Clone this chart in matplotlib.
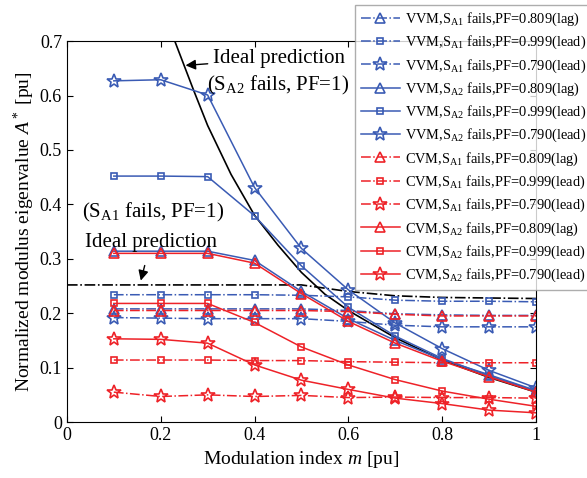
import matplotlib
matplotlib.use('Agg')
import matplotlib.pyplot as plt
import numpy as np

plt.rcParams['font.family'] = ['Liberation Serif', 'DejaVu Serif']
plt.rcParams['mathtext.fontset'] = 'custom'
plt.rcParams['mathtext.rm'] = 'Liberation Serif'
plt.rcParams['mathtext.it'] = 'Liberation Serif:italic'

# modulation index
m = [0.1, 0.2, 0.3, 0.4, 0.5, 0.6, 0.7, 0.8, 0.9, 1.0]

# VVM, S_A1 fails (dash-dot)
vvm_a1_809 = [0.208, 0.208, 0.208, 0.208, 0.208, 0.205, 0.199, 0.197, 0.196, 0.196]
vvm_a1_999 = [0.234, 0.234, 0.234, 0.234, 0.233, 0.230, 0.224, 0.222, 0.222, 0.221]
vvm_a1_790 = [0.192, 0.191, 0.190, 0.190, 0.190, 0.185, 0.178, 0.175, 0.175, 0.175]
# VVM, S_A2 fails (solid)
vvm_a2_809 = [0.314, 0.314, 0.314, 0.297, 0.240, 0.190, 0.150, 0.115, 0.087, 0.058]
vvm_a2_999 = [0.452, 0.452, 0.451, 0.379, 0.287, 0.211, 0.158, 0.117, 0.085, 0.057]
vvm_a2_790 = [0.627, 0.629, 0.601, 0.431, 0.319, 0.243, 0.182, 0.135, 0.095, 0.063]
# CVM, S_A1 fails (dash-dot)
cvm_a1_809 = [0.205, 0.205, 0.205, 0.205, 0.205, 0.203, 0.198, 0.195, 0.195, 0.195]
cvm_a1_999 = [0.114, 0.114, 0.114, 0.113, 0.113, 0.111, 0.110, 0.109, 0.109, 0.109]
cvm_a1_790 = [0.055, 0.047, 0.050, 0.047, 0.049, 0.045, 0.046, 0.045, 0.045, 0.044]
# CVM, S_A2 fails (solid)
cvm_a2_809 = [0.310, 0.310, 0.310, 0.292, 0.236, 0.185, 0.145, 0.112, 0.083, 0.055]
cvm_a2_999 = [0.218, 0.218, 0.218, 0.183, 0.138, 0.105, 0.078, 0.057, 0.042, 0.029]
cvm_a2_790 = [0.153, 0.152, 0.145, 0.105, 0.077, 0.060, 0.044, 0.034, 0.022, 0.017]

# ideal predictions
ideal_a2_m = [0.23, 0.25, 0.27, 0.3, 0.35, 0.4, 0.45, 0.5, 0.55, 0.6, 0.7, 0.8, 0.9, 1.0]
ideal_a2 = [0.70, 0.655, 0.61, 0.545, 0.455, 0.38, 0.325, 0.275, 0.235, 0.205, 0.155, 0.114, 0.082, 0.055]
ideal_a1_m = [0.0, 0.5, 0.6, 0.7, 0.8, 0.9, 1.0]
ideal_a1 = [0.252, 0.252, 0.240, 0.232, 0.229, 0.228, 0.227]

blue = '#3a5bb4'
red = '#ee2228'

fig = plt.figure(figsize=(5.87, 4.78), dpi=100)
ax = fig.add_axes([0.114, 0.117, 0.799, 0.797])

ax.plot(ideal_a2_m, ideal_a2, color='black', lw=1.2)
ax.plot(ideal_a1_m, ideal_a1, color='black', lw=1.2, ls='-.')

series = [
    (vvm_a1_809, blue, '-.', '^', 7, 'VVM,S$_{\\rm A1}$ fails,PF=0.809(lag)'),
    (vvm_a1_999, blue, '-.', 's', 5, 'VVM,S$_{\\rm A1}$ fails,PF=0.999(lead)'),
    (vvm_a1_790, blue, '-.', '*', 10, 'VVM,S$_{\\rm A1}$ fails,PF=0.790(lead)'),
    (vvm_a2_809, blue, '-', '^', 7, 'VVM,S$_{\\rm A2}$ fails,PF=0.809(lag)'),
    (vvm_a2_999, blue, '-', 's', 5, 'VVM,S$_{\\rm A2}$ fails,PF=0.999(lead)'),
    (vvm_a2_790, blue, '-', '*', 10, 'VVM,S$_{\\rm A2}$ fails,PF=0.790(lead)'),
    (cvm_a1_809, red, '-.', '^', 7, 'CVM,S$_{\\rm A1}$ fails,PF=0.809(lag)'),
    (cvm_a1_999, red, '-.', 's', 5, 'CVM,S$_{\\rm A1}$ fails,PF=0.999(lead)'),
    (cvm_a1_790, red, '-.', '*', 10, 'CVM,S$_{\\rm A1}$ fails,PF=0.790(lead)'),
    (cvm_a2_809, red, '-', '^', 7, 'CVM,S$_{\\rm A2}$ fails,PF=0.809(lag)'),
    (cvm_a2_999, red, '-', 's', 5, 'CVM,S$_{\\rm A2}$ fails,PF=0.999(lead)'),
    (cvm_a2_790, red, '-', '*', 10, 'CVM,S$_{\\rm A2}$ fails,PF=0.790(lead)'),
]
for y, c, ls, mk, ms, lab in series:
    ax.plot(m, y, color=c, ls=ls, lw=1.1, marker=mk, ms=ms, mfc='none',
            mec=c, mew=1.2, label=lab)

ax.set_xlim(0, 1)
ax.set_ylim(0, 0.7)
ax.set_xticks([0, 0.2, 0.4, 0.6, 0.8, 1])
ax.set_xticklabels(['0', '0.2', '0.4', '0.6', '0.8', '1'])
ax.set_yticks(np.arange(0, 0.71, 0.1))
ax.set_yticklabels(['0', '0.1', '0.2', '0.3', '0.4', '0.5', '0.6', '0.7'])
ax.tick_params(direction='in', top=True, right=True, labelsize=13, length=4)
ax.set_xlabel('Modulation index $m$ [pu]', fontsize=14, labelpad=4)
ax.set_ylabel('Normalized modulus eigenvalue $A^*$ [pu]', fontsize=14, labelpad=2)

ax.annotate('Ideal prediction', xy=(0.247, 0.655), xytext=(0.312, 0.668),
            fontsize=15, va='center',
            arrowprops=dict(arrowstyle='-|>', color='black', lw=1))
ax.text(0.298, 0.618, '(S$_{\\rm A2}$ fails, PF=1)', fontsize=15, va='center')
ax.text(0.033, 0.386, '(S$_{\\rm A1}$ fails, PF=1)', fontsize=15, va='center')
ax.annotate('Ideal prediction', xy=(0.156, 0.255), xytext=(0.038, 0.33),
            fontsize=15, va='center',
            arrowprops=dict(arrowstyle='-|>', color='black', lw=1,
                            shrinkA=8))

leg = fig.legend(loc='upper left', bbox_to_anchor=(355 / 587, 1 - 5 / 478),
                 fontsize=10.4, frameon=True, fancybox=False, edgecolor='#999999',
                 handlelength=2.7, labelspacing=0.41, borderpad=0.4,
                 handletextpad=0.35, borderaxespad=0)
leg.get_frame().set_linewidth(1.0)

fig.savefig('out.png', dpi=100)
